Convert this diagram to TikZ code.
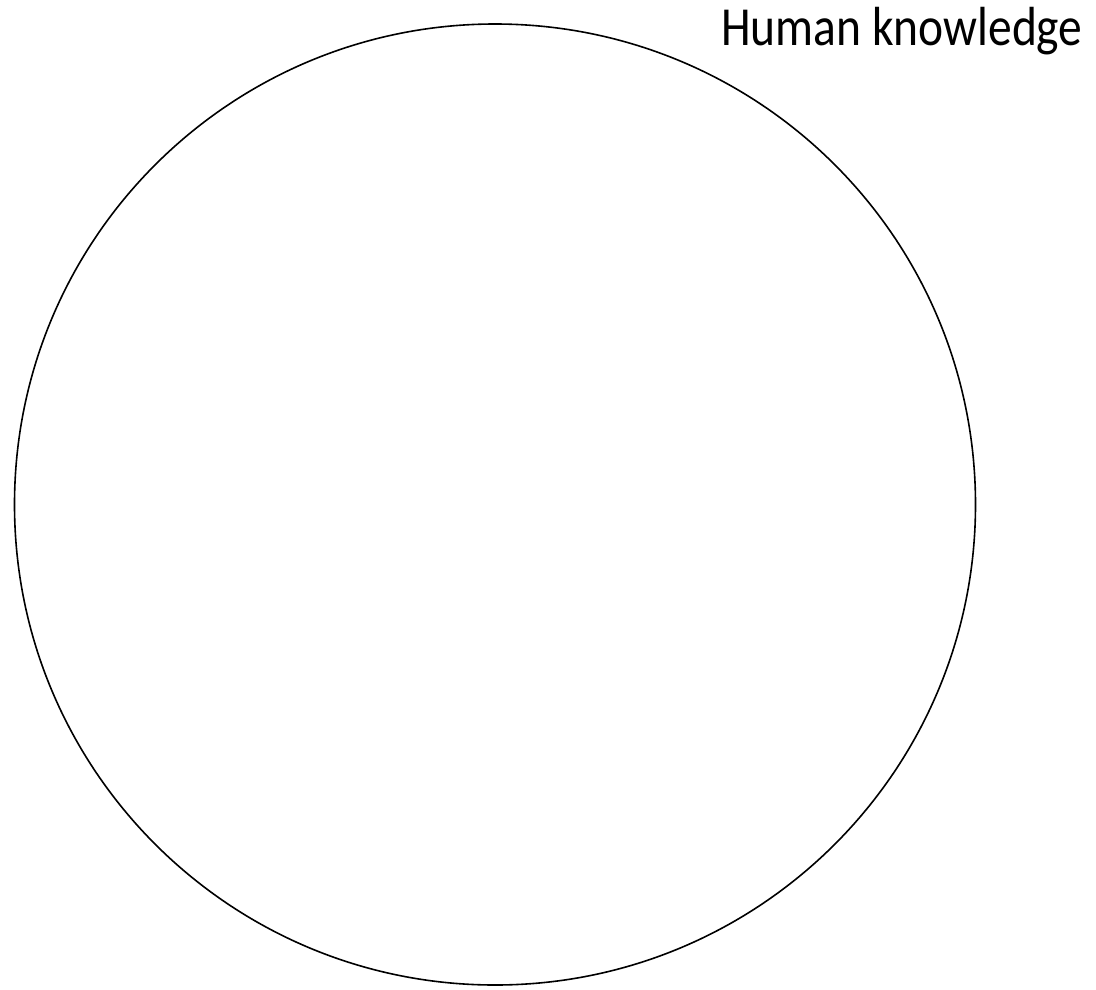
\documentclass[tikz,border=0pt]{standalone}
\usepackage{fontspec}
\usepackage{graphicx}
\setmainfont{Carlito}
\begin{document}
\begin{tikzpicture}[x=1pt,y=-1pt,
  ring/.style={draw=black,line width=1.6pt},
  lbl/.style={font=\fontsize{47.5}{57}\selectfont,anchor=base west,inner sep=0pt}]
\useasboundingbox (0,0) rectangle (1096,989);
\node[ring,circle,minimum size=961pt,inner sep=0pt] (know) at (495,504.5) {};
\node[lbl] (title) at (721,45) {\scalebox{1}[1.16]{Human knowledge}};
\end{tikzpicture}
\end{document}
